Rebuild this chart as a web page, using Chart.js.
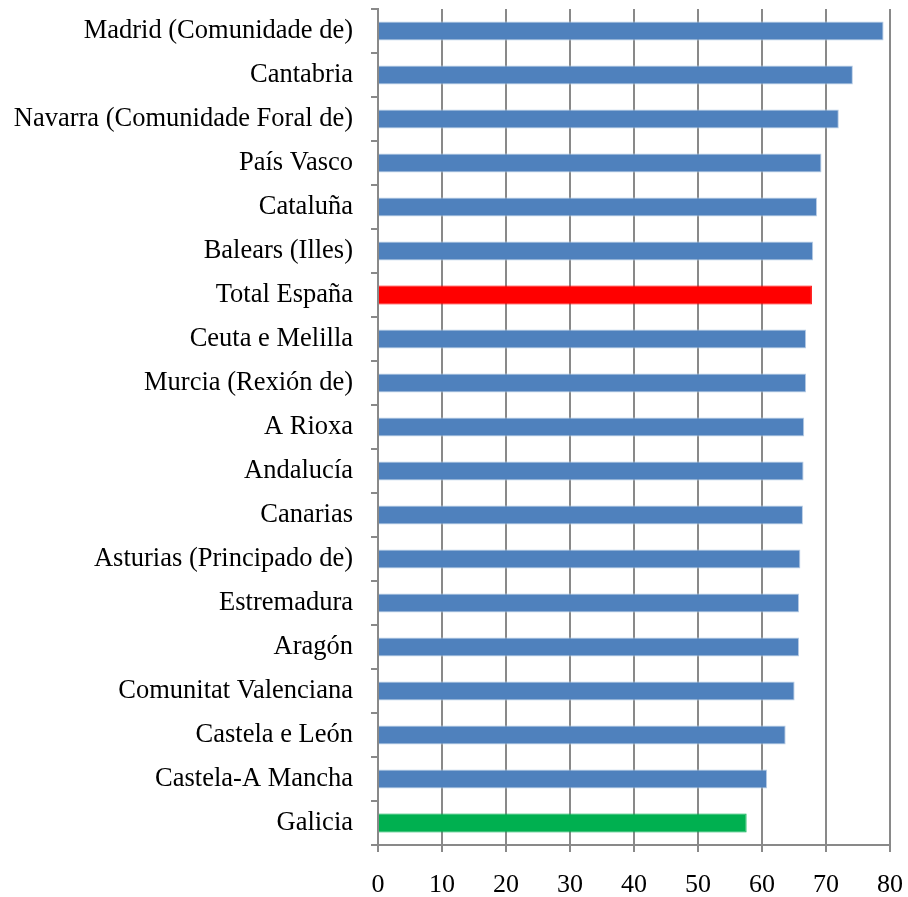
<!DOCTYPE html>
<html>
<head>
<meta charset="utf-8">
<script src="https://cdn.jsdelivr.net/npm/chart.js@4.4.1/dist/chart.umd.min.js"></script>
<style>
  html, body { margin: 0; padding: 0; background: #fff; }
  #wrap { width: 908px; height: 897px; }
</style>
</head>
<body>
<div id="wrap"><canvas id="myChart"></canvas></div>
<script>
const regions = [
  'Madrid (Comunidade de)', 'Cantabria', 'Navarra (Comunidade Foral de)', 'País Vasco',
  'Cataluña', 'Balears (Illes)', 'Total España', 'Ceuta e Melilla', 'Murcia (Rexión de)',
  'A Rioxa', 'Andalucía', 'Canarias', 'Asturias (Principado de)', 'Estremadura', 'Aragón',
  'Comunitat Valenciana', 'Castela e León', 'Castela-A Mancha', 'Galicia'
];
const values = [
  79.0, 74.2, 72.0, 69.3, 68.6, 68.0, 67.8, 66.9, 66.9,
  66.6, 66.5, 66.4, 66.0, 65.8, 65.8, 65.1, 63.7, 60.8, 57.6
];
const xTicks = [0, 10, 20, 30, 40, 50, 60, 70, 80];

const gridGrey = '#898989';
const serif = '"Liberation Serif", "Times New Roman", serif';
const fillFor = name => name === 'Total España' ? '#ff0000' : name === 'Galicia' ? '#00b050' : '#4f81bd';
const edgeFor = name => name === 'Total España' ? '#ff0000' : name === 'Galicia' ? '#00b050' : '#b9cde5';

const ctx = document.getElementById('myChart');

new Chart(ctx, {
  type: 'bar',
  data: {
    labels: regions,
    datasets: [{
      data: values,
      backgroundColor: regions.map(fillFor),
      borderColor: regions.map(edgeFor),
      borderWidth: 1,
      categoryPercentage: 1,
      barPercentage: 0.43
    }]
  },
  options: {
    indexAxis: 'y',
    responsive: true,
    maintainAspectRatio: false,
    animation: false,
    layout: { padding: { top: 9, right: 18, left: 0, bottom: 0 } },
    plugins: {
      legend: { display: false },
      tooltip: { enabled: false }
    },
    scales: {
      x: {
        min: xTicks[0],
        max: xTicks[xTicks.length - 1],
        afterBuildTicks: scale => { scale.ticks = xTicks.map(v => ({ value: v })); },
        afterFit: scale => {
          scale.height = 52;
          scale.paddingLeft = 0;
          scale.paddingRight = 0;
        },
        grid: { color: gridGrey, lineWidth: 2, tickLength: 7 },
        border: { color: gridGrey, width: 2 },
        ticks: {
          color: '#000',
          padding: 18,
          font: { family: serif, size: 26 }
        }
      },
      y: {
        afterFit: scale => {
          scale.width = 378;
          scale.paddingTop = 0;
          scale.paddingBottom = 0;
        },
        grid: { drawOnChartArea: false, color: gridGrey, lineWidth: 2, tickLength: 7, offset: true },
        border: { color: gridGrey, width: 2 },
        ticks: {
          color: '#000',
          padding: 18,
          autoSkip: false,
          font: { family: serif, size: 26.5 }
        }
      }
    }
  }
});
</script>
</body>
</html>
